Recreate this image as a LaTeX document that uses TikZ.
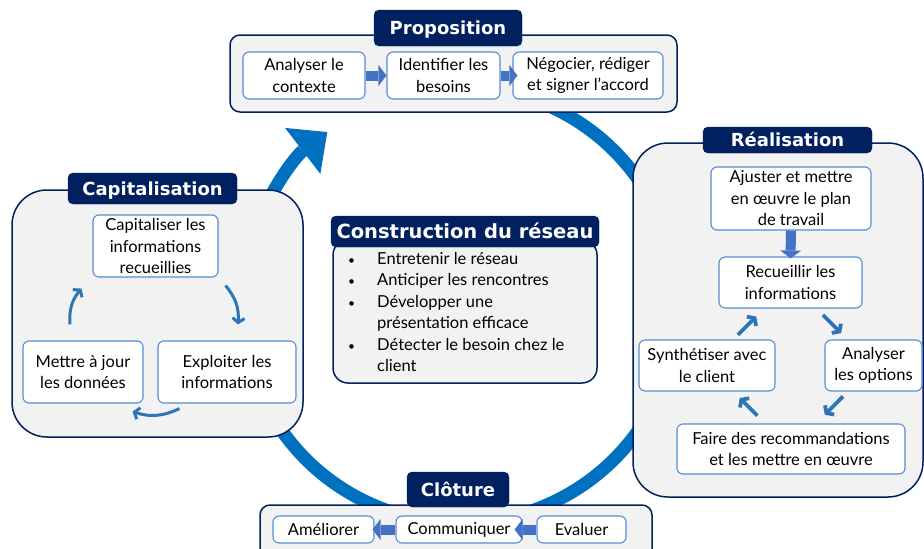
\documentclass[tikz,border=0pt]{standalone}
\usepackage{fontspec}
\setmainfont{Lato}
\newfontfamily\titlefont{DejaVu Sans}
\usetikzlibrary{arrows.meta,calc}
\definecolor{navy}{RGB}{0,32,96}
\definecolor{boxgray}{RGB}{242,242,242}
\definecolor{inborder}{RGB}{84,141,212}
\definecolor{arcblue}{RGB}{0,112,192}
\definecolor{arrowblue}{RGB}{46,117,182}
\definecolor{blockblue}{RGB}{68,114,196}
\tikzset{
  outerbox/.style={draw=navy, line width=1.5pt, fill=boxgray, inner sep=0pt},
  tabbox/.style={fill=navy, draw=navy, rounded corners=5pt, inner sep=0pt, text=white,
    text height=13.1pt, text depth=0pt,
    font=\titlefont\bfseries\fontsize{18}{20}\selectfont},
  inbox/.style={draw=inborder, line width=1.1pt, fill=white, rounded corners=6pt,
    inner sep=0pt, align=center, font=\fontsize{16.5}{21.5}\selectfont},
  blockarrow/.style={draw=blockblue, line width=10pt,
    -{Triangle[length=8pt,width=21pt,line width=0pt]}},
  chevron/.style={draw=arrowblue, line width=3.8pt,
    -{Straight Barb[length=4.5pt,width=13pt]}},
  curvearrow/.style={draw=arrowblue, line width=3pt,
    -{Straight Barb[length=4.5pt,width=12pt]}},
}
\newcommand{\smallbul}{{\fontsize{12}{12}\selectfont\textbullet}}
\begin{document}
\begin{tikzpicture}[x=1pt,y=1pt]
\useasboundingbox (0,0) rectangle (924,-549);
% big cycle arc
\coordinate (O) at (460,-305);
\draw[arcblue, line width=13pt, -{Triangle[width=58pt,length=31pt,line width=0pt]}]
  ($(O)+(70:218)$) arc[start angle=70, end angle=-232.5, radius=218];

% ---------- Proposition ----------
\node[outerbox, rounded corners=10pt, minimum width=447pt, minimum height=77pt] (P) at (453.5,-73.5) {};
\node[tabbox, minimum width=148pt, minimum height=36pt] (PT) at (448,-28) {Proposition};
\node[inbox, minimum width=122pt, minimum height=47pt] (A1) at (304,-75.5) {Analyser le\\contexte};
\node[inbox, minimum width=113pt, minimum height=47pt] (A2) at (443.5,-75.5) {Identifier les\\besoins};
\node[inbox, minimum width=150pt, minimum height=47pt] (A3) at (588,-75.5) {Négocier, rédiger\\et signer l’accord};
\draw[blockarrow] (A1.east) -- (A2.west);
\draw[blockarrow] (A2.east) -- ($(A3.west)+(5,0)$);

% ---------- Capitalisation ----------
\node[outerbox, rounded corners=35pt, minimum width=291pt, minimum height=247pt] (C) at (157.5,-313.5) {};
\node[tabbox, minimum width=169pt, minimum height=31pt] (CT) at (152.5,-188.5) {Capitalisation};
\node[inbox, minimum width=125pt, minimum height=62pt] (C1) at (155.5,-246) {Capitaliser les\\informations\\recueillies};
\node[inbox, minimum width=120pt, minimum height=62pt] (C2) at (83,-372) {Mettre à jour\\les données};
\node[inbox, minimum width=138pt, minimum height=62pt] (C3) at (227,-372) {Exploiter les\\informations};
\draw[curvearrow] ($(C1.south east)+(7,-8)$) to[bend left=22] ($(C3.north)+(11,16)$);
\draw[curvearrow] ($(C3.south west)+(22,-5)$) to[bend left=22] ($(C2.south east)+(-11,-8)$);
\draw[curvearrow] ($(C2.north)+(-13,16)$) to[bend left=22] ($(C1.south west)+(-11,-11)$);

% ---------- Réalisation ----------
\node[outerbox, rounded corners=35pt, minimum width=290pt, minimum height=354pt] (R) at (778,-320) {};
\node[tabbox, minimum width=169pt, minimum height=26pt] (RT) at (787.5,-140) {Réalisation};
\node[inbox, minimum width=160pt, minimum height=63pt] (R1) at (791,-198.5) {Ajuster et mettre\\en œuvre le plan\\de travail};
\node[inbox, minimum width=143pt, minimum height=51pt] (R2) at (790.5,-282.5) {Recueillir les\\informations};
\node[inbox, minimum width=136pt, minimum height=51pt] (R3) at (707,-365.5) {Synthétiser avec\\le client};
\node[inbox, minimum width=97pt, minimum height=51pt] (R4) at (873.5,-365.5) {Analyser\\les options};
\node[inbox, minimum width=228pt, minimum height=50pt] (R5) at (791,-449) {Faire des recommandations\\et les mettre en œuvre};
\draw[blockarrow] (R1.south) -- ($(R2.north)+(0,-2)$);
\draw[chevron] ($(R3)!0.37!(R2)$) -- ($(R3)!0.59!(R2)$);
\draw[chevron] ($(R2)!0.39!(R4)$) -- ($(R2)!0.61!(R4)$);
\draw[chevron] ($(R4)!0.37!(R5)$) -- ($(R4)!0.59!(R5)$);
\draw[chevron] ($(R5)!0.40!(R3)$) -- ($(R5)!0.61!(R3)$);

% ---------- Clôture ----------
\node[outerbox, rounded corners=10pt, minimum width=392pt, minimum height=70pt] (K) at (456,-540) {};
\node[tabbox, minimum width=102pt, minimum height=35pt] (KT) at (458,-489.5) {Clôture};
\node[inbox, minimum width=101pt, minimum height=27pt] (K1) at (323.5,-529.5) {Améliorer};
\node[inbox, minimum width=126pt, minimum height=27pt] (K2) at (459,-529.5) {Communiquer};
\node[inbox, minimum width=89pt, minimum height=27pt] (K3) at (581.5,-529.5) {Evaluer};
\draw[blockarrow] (K3.west) -- ($(K2.east)+(-8,0)$);
\draw[blockarrow] (K2.west) -- ($(K1.east)+(-2,0)$);

% ---------- Construction du réseau ----------
\node[outerbox, rounded corners=15pt, minimum width=264pt, minimum height=143pt] (CB) at (465,-311.5) {};
\node[tabbox, minimum width=268pt, minimum height=31pt, text height=14.2pt, font=\titlefont\bfseries\fontsize{19.5}{22}\selectfont] (CBT) at (465,-231.5) {Construction du réseau};
\node[anchor=north west, inner sep=0pt, font=\fontsize{16.5}{21.5}\selectfont] (CL) at (348,-249) {%
\begin{tabular}{@{}p{29pt}@{}l@{}}
\smallbul & Entretenir le réseau\\
\smallbul & Anticiper les rencontres\\
\smallbul & Développer une\\
 & présentation efficace\\
\smallbul & Détecter le besoin chez le\\
 & client
\end{tabular}};
\end{tikzpicture}
\end{document}
